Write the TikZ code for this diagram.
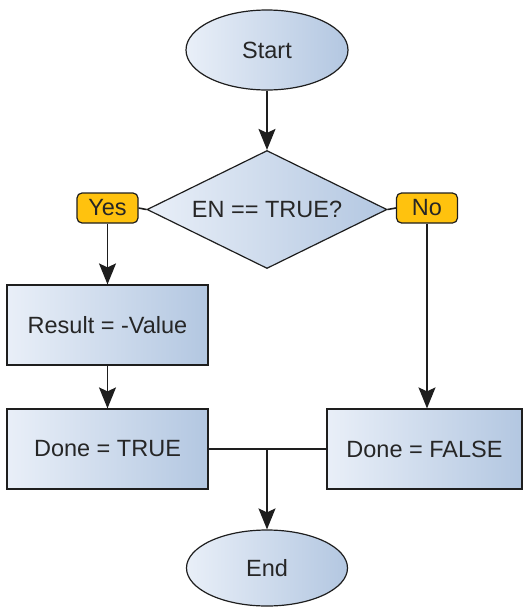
\documentclass[tikz,border=0pt]{standalone}
\usepackage{fontspec}
\setmainfont{Liberation Sans}
\usetikzlibrary{shapes.geometric,arrows.meta}
\definecolor{boxlight}{HTML}{E9EFF8}
\definecolor{boxdark}{HTML}{B3C7E1}
\definecolor{tagfill}{HTML}{FFC20E}
\definecolor{inkline}{HTML}{1E1E1E}
\definecolor{inktext}{HTML}{262626}
\begin{document}
\begin{tikzpicture}[x=1pt,y=-1pt,
  every node/.style={font=\fontsize{23.5}{27}\selectfont, text=inktext},
  shaded/.style={draw=inkline, line width=1.2pt, left color=boxlight, right color=boxdark},
  terminal/.style={shaded, ellipse, inner sep=0pt},
  process/.style={shaded, rectangle, inner sep=0pt},
  decision/.style={shaded, diamond, aspect=2, inner sep=0pt},
  tag/.style={draw=inkline, line width=1.2pt, fill=tagfill, rounded corners=5pt, inner sep=0pt,
              minimum width=61pt, minimum height=30pt},
  flow/.style={draw=inkline, line width=1.6pt},
  arrow/.style={flow, -{Stealth[length=21pt,width=17pt,inset=4pt]}}
]
\useasboundingbox (0,0) rectangle (523,608);

% terminals
\node[terminal, minimum width=162pt, minimum height=80pt] (start) at (267,50) {Start};
\node[terminal, minimum width=161pt, minimum height=76pt] (end) at (267,568) {End};

% decision with its two branch tags
\node[decision, minimum width=240pt, minimum height=118pt] (cond) at (267,209.5) {EN == TRUE?};
\node[tag] (yes) at (107.5,208) {Yes};
\node[tag] (no) at (427,208) {No};

% process steps
\node[process, minimum width=201pt, minimum height=80pt] (res) at (107.5,325) {Result = -Value};
\node[process, minimum width=201pt, minimum height=80pt] (dtrue) at (107.5,449) {Done = TRUE};
\node[process, minimum width=195pt, minimum height=80pt] (dfalse) at (424.5,449) {Done = FALSE};

% connectors
\draw[arrow] (start.south) -- (cond.north);
\draw[flow] (yes.east) -- (cond.west);
\draw[flow] (cond.east) -- (no.west);
\draw[arrow] (yes.south) -- (yes.south |- res.north);
\draw[arrow] (no.south) -- (no.south |- dfalse.north);
\draw[arrow] (res.south) -- (dtrue.north);
\draw[flow] (dtrue.east) -- (dfalse.west);
\coordinate (merge) at (dtrue.east -| end.north);
\draw[arrow] (merge) -- (end.north);
\end{tikzpicture}
\end{document}
